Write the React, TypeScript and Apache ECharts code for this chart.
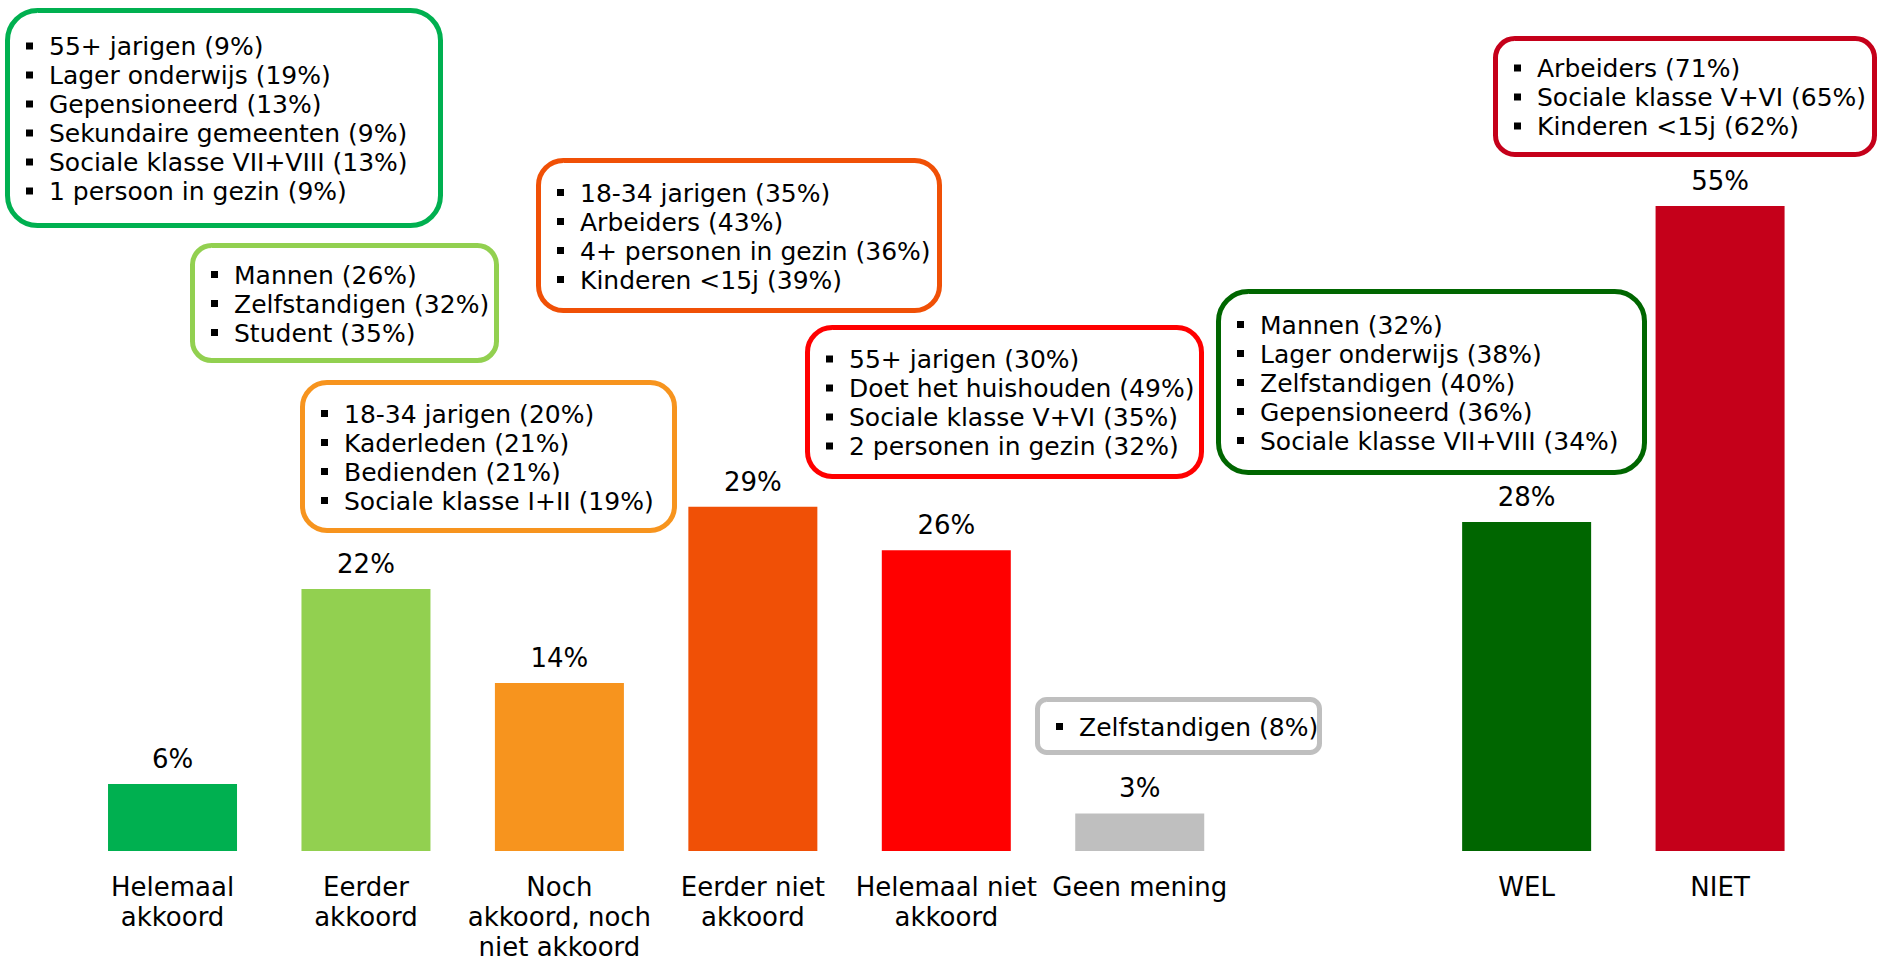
import React, { useEffect, useRef } from "react";
import * as echarts from "echarts";

// ---------- data ----------
const categories = [
  "Helemaal\nakkoord",
  "Eerder\nakkoord",
  "Noch\nakkoord, noch\nniet akkoord",
  "Eerder niet\nakkoord",
  "Helemaal niet\nakkoord",
  "Geen mening",
  "",
  "WEL",
  "NIET",
];
const values: (number | null)[] = [5.7, 22.3, 14.3, 29.3, 25.6, 3.2, null, 28.0, 54.9];
const barColors = ["#00B050", "#92D050", "#F7941E", "#F05006", "#FF0000", "#BFBFBF", "#FFFFFF", "#006600", "#C5001A"];

const profileHelemaalAkkoord = [
  "55+ jarigen (9%)",
  "Lager onderwijs (19%)",
  "Gepensioneerd (13%)",
  "Sekundaire gemeenten (9%)",
  "Sociale klasse VII+VIII (13%)",
  "1 persoon in gezin (9%)",
];
const profileEerderAkkoord = ["Mannen (26%)", "Zelfstandigen (32%)", "Student (35%)"];
const profileNoch = ["18-34 jarigen (20%)", "Kaderleden (21%)", "Bedienden (21%)", "Sociale klasse I+II (19%)"];
const profileEerderNiet = ["18-34 jarigen (35%)", "Arbeiders (43%)", "4+ personen in gezin (36%)", "Kinderen <15j (39%)"];
const profileHelemaalNiet = ["55+ jarigen (30%)", "Doet het huishouden (49%)", "Sociale klasse V+VI (35%)", "2 personen in gezin (32%)"];
const profileGeenMening = ["Zelfstandigen (8%)"];
const profileWel = ["Mannen (32%)", "Lager onderwijs (38%)", "Zelfstandigen (40%)", "Gepensioneerd (36%)", "Sociale klasse VII+VIII (34%)"];
const profileNiet = ["Arbeiders (71%)", "Sociale klasse V+VI (65%)", "Kinderen <15j (62%)"];

// ---------- layout of annotation boxes (outer bounds in px) ----------
const boxLayout = [
  { items: profileHelemaalAkkoord, color: "#00B050", x: 5, y: 8, w: 438, h: 220 },
  { items: profileEerderAkkoord, color: "#92D050", x: 190, y: 243, w: 309, h: 120 },
  { items: profileNoch, color: "#F7941E", x: 300, y: 380, w: 377, h: 153 },
  { items: profileEerderNiet, color: "#F05006", x: 536, y: 158, w: 406, h: 155 },
  { items: profileHelemaalNiet, color: "#FF0000", x: 805, y: 325, w: 399, h: 154 },
  { items: profileGeenMening, color: "#BFBFBF", x: 1035, y: 697, w: 287, h: 58 },
  { items: profileWel, color: "#006600", x: 1216, y: 289, w: 431, h: 186 },
  { items: profileNiet, color: "#C5001A", x: 1493, y: 36, w: 384, h: 121 },
];

const FONT = "DejaVu Sans";

function buildGraphics() {
  const out: any[] = [];
  const lw = 5;
  const lineH = 29;
  boxLayout.forEach((b) => {
    const r = Math.min(30, b.h * 0.16);
    out.push({
      type: "rect",
      shape: { x: b.x + lw / 2, y: b.y + lw / 2, width: b.w - lw, height: b.h - lw, r },
      style: { fill: "#FFFFFF", stroke: b.color, lineWidth: lw },
      z: 10,
    });
    const n = b.items.length;
    const first = b.y + b.h / 2 - ((n - 1) * lineH) / 2 + 1;
    b.items.forEach((t, i) => {
      const cy = first + i * lineH;
      out.push({
        type: "rect",
        shape: { x: b.x + 21, y: cy - 4, width: 7, height: 7 },
        style: { fill: "#000000" },
        z: 11,
      });
      out.push({
        type: "text",
        x: b.x + 44,
        y: cy,
        style: {
          text: t,
          fill: "#000000",
          fontFamily: FONT,
          fontSize: 25,
          verticalAlign: "middle",
          align: "left",
        },
        z: 11,
      });
    });
  });
  return out;
}

export default function App() {
  const ref = useRef<HTMLDivElement>(null);
  useEffect(() => {
    if (!ref.current) return;
    const chart = echarts.init(ref.current, null, { renderer: "svg" });
    chart.setOption({
      animation: false,
      backgroundColor: "#FFFFFF",
      grid: {
        left: 75.8,
        width: 1741,
        top: 146,
        height: 705,
        containLabel: false,
        outerBoundsMode: "none",
      },
      xAxis: {
        type: "category",
        data: categories,
        axisLine: { show: false },
        axisTick: { show: false },
        splitLine: { show: false },
        axisLabel: {
          interval: 0,
          fontSize: 26,
          lineHeight: 30,
          color: "#000000",
          fontFamily: FONT,
          margin: 21,
        },
      },
      yAxis: { type: "value", min: 0, max: 60, show: false, splitLine: { show: false } },
      series: [
        {
          type: "bar",
          barWidth: 129,
          data: values.map((v, i) => ({ value: v, itemStyle: { color: barColors[i] } })),
          label: {
            show: true,
            position: "top",
            distance: 12,
            fontSize: 26,
            fontFamily: FONT,
            color: "#000000",
            formatter: (p: any) => (p.value == null ? "" : Math.round(p.value) + "%"),
          },
        },
      ],
      graphic: buildGraphics(),
    });
    return () => chart.dispose();
  }, []);
  return (
    <div
      ref={ref}
      style={{ position: "fixed", left: 0, top: 0, width: 1879, height: 963, background: "#fff" }}
    />
  );
}
